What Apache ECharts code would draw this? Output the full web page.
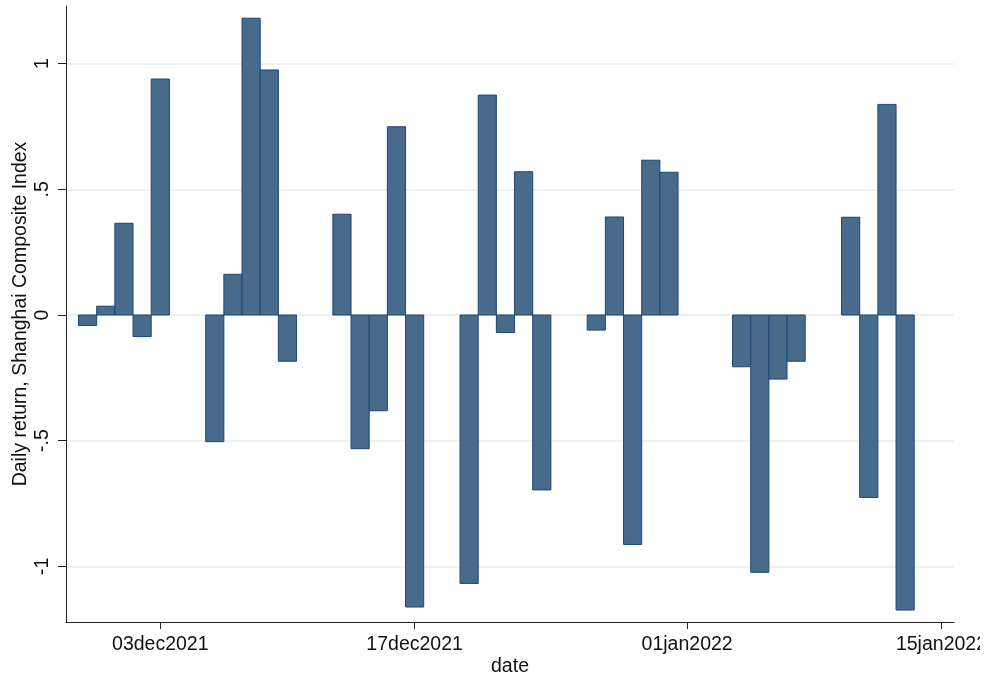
<!DOCTYPE html>
<html>
<head>
<meta charset="utf-8">
<script src="https://cdn.jsdelivr.net/npm/echarts@6/dist/echarts.min.js"></script>
<style>
html,body{margin:0;padding:0;background:#fff;}
#chart{width:989px;height:679px;}
</style>
</head>
<body>
<div id="chart"></div>
<script>
// Trading dates and daily returns (%) of the Shanghai Composite Index
const dates = [
  '2021-11-29','2021-11-30','2021-12-01','2021-12-02','2021-12-03',
  '2021-12-06','2021-12-07','2021-12-08','2021-12-09','2021-12-10',
  '2021-12-13','2021-12-14','2021-12-15','2021-12-16','2021-12-17',
  '2021-12-20','2021-12-21','2021-12-22','2021-12-23','2021-12-24',
  '2021-12-27','2021-12-28','2021-12-29','2021-12-30','2021-12-31',
  '2022-01-04','2022-01-05','2022-01-06','2022-01-07',
  '2022-01-10','2022-01-11','2022-01-12','2022-01-13'
];
const returns = [
  -0.042, 0.035, 0.365, -0.086, 0.939,
  -0.504, 0.162, 1.181, 0.975, -0.184,
  0.401, -0.532, -0.381, 0.749, -1.162,
  -1.068, 0.875, -0.070, 0.570, -0.696,
  -0.060, 0.390, -0.913, 0.616, 0.568,
  -0.206, -1.024, -0.255, -0.184,
  0.389, -0.726, 0.838, -1.174
];
const xTickDates = ['2021-12-03','2021-12-17','2022-01-01','2022-01-15'];
const xTickLabels = ['03dec2021','17dec2021','01jan2022','15jan2022'];
const yTicks = [-1, -0.5, 0, 0.5, 1];
const yTickLabels = ['-1', '-.5', '0', '.5', '1'];

const dayOf = s => Date.parse(s + 'T00:00:00Z') / 864e5;
const xTickDays = xTickDates.map(dayOf);
const xLabelMap = {};
xTickDays.forEach((d, i) => { xLabelMap[d] = xTickLabels[i]; });
const yLabelMap = {};
yTicks.forEach((v, i) => { yLabelMap[v] = yTickLabels[i]; });

const FONT = 'Liberation Sans, Arial, Helvetica, sans-serif';
const FS = 19.5;

const chart = echarts.init(document.getElementById('chart'), null, {renderer: 'canvas'});
const option = {
  animation: false,
  backgroundColor: '#ffffff',
  grid: {left: 66, right: 35, top: 6, bottom: 57, containLabel: false, outerBoundsMode: 'none'},
  xAxis: {
    type: 'value',
    min: dayOf('2021-12-03') - 5.19,
    max: dayOf('2022-01-15') + 0.69,
    name: 'date',
    nameLocation: 'middle',
    nameGap: 35,
    nameMoveOverlap: false,
    nameTextStyle: {fontFamily: FONT, fontSize: FS, color: '#111'},
    axisLine: {show: true, onZero: false, lineStyle: {color: '#222', width: 1}},
    axisTick: {show: true, length: 7, customValues: xTickDays, lineStyle: {color: '#222', width: 1}},
    axisLabel: {
      show: true, margin: 13, customValues: xTickDays,
      fontFamily: FONT, fontSize: FS, color: '#111',
      formatter: v => xLabelMap[Math.round(v)] || ''
    },
    splitLine: {show: false}
  },
  yAxis: {
    type: 'value',
    min: -1.2216,
    max: 1.2296,
    name: 'Daily return, Shanghai Composite Index',
    nameLocation: 'middle',
    nameGap: 35,
    nameRotate: 90,
    nameMoveOverlap: false,
    nameTextStyle: {fontFamily: FONT, fontSize: FS, color: '#111'},
    axisLine: {show: true, onZero: false, lineStyle: {color: '#222', width: 1}},
    axisTick: {show: true, length: 8, customValues: yTicks, lineStyle: {color: '#222', width: 1}},
    axisLabel: {
      show: true, rotate: 90, margin: 13, customValues: yTicks,
      fontFamily: FONT, fontSize: FS, color: '#111',
      formatter: v => yLabelMap[Math.round(v * 2) / 2] || ''
    },
    splitLine: {show: true, lineStyle: {color: '#e4ecf1', width: 1.5}}
  },
  series: [{
    type: 'custom',
    data: dates.map((d, i) => [dayOf(d), returns[i]]),
    encode: {x: 0, y: 1},
    clip: true,
    renderItem: function (params, api) {
      const x = api.value(0), y = api.value(1);
      const a = api.coord([x - 0.5, y]);
      const b = api.coord([x + 0.5, 0]);
      return {
        type: 'rect',
        shape: {x: a[0], y: Math.min(a[1], b[1]), width: b[0] - a[0], height: Math.abs(b[1] - a[1])},
        style: {fill: '#486b8c', stroke: '#1f4670', lineWidth: 1}
      };
    }
  }],
  graphic: [
    {type: 'rect', left: 980, top: 0, z: 100, shape: {width: 9, height: 679}, style: {fill: '#ffffff'}},
    {type: 'rect', left: 0, top: 672, z: 100, shape: {width: 989, height: 7}, style: {fill: '#ffffff'}}
  ]
};
chart.setOption(option);
</script>
</body>
</html>
